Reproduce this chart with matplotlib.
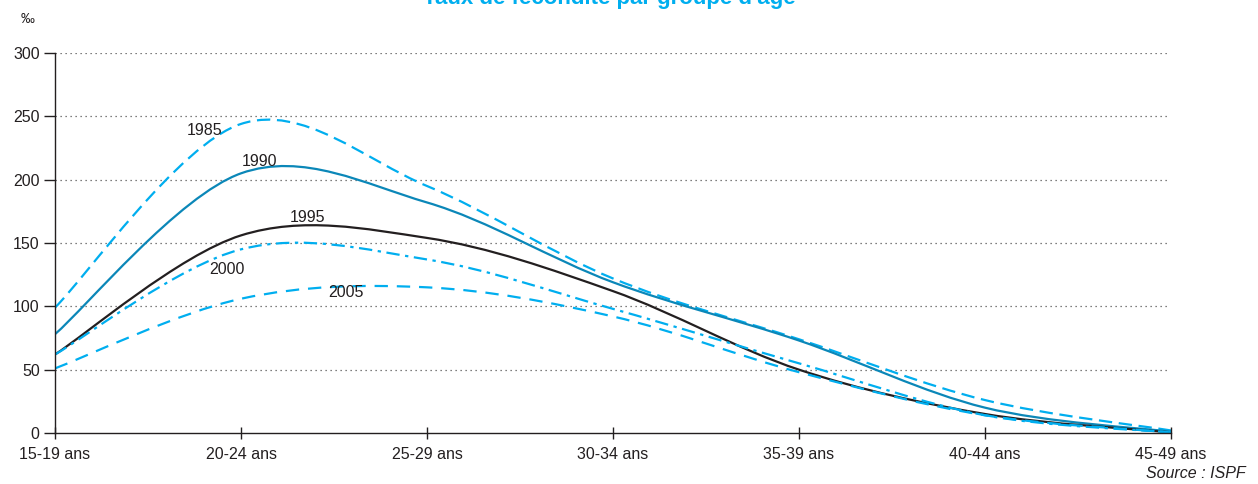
import matplotlib.pyplot as plt
import numpy as np
from matplotlib.path import Path
from matplotlib.patches import PathPatch

plt.rcParams['font.family'] = ['Liberation Sans', 'DejaVu Sans']

ages = ["15-19 ans", "20-24 ans", "25-29 ans", "30-34 ans", "35-39 ans", "40-44 ans", "45-49 ans"]
t1985 = [99, 244, 195, 122, 74, 26, 2]
t1990 = [78, 205, 182, 119, 73, 20, 1]
t1995 = [62, 156, 154, 112, 50, 15, 0.5]
t2000 = [62, 145, 137, 98, 55, 14, 0.5]
t2005 = [51, 106, 115, 92, 48, 14, 0.5]

lightblue = "#00AEEF"
series = [
    ("1985", t1985, lightblue, (0, (6, 3))),
    ("1990", t1990, "#0B87B8", "-"),
    ("1995", t1995, "#231F20", "-"),
    ("2000", t2000, lightblue, (0, (6, 2.5, 1.5, 2.5))),
    ("2005", t2005, lightblue, (0, (6, 4))),
]
labels = {"1985": (0.806, 239), "1990": (1.102, 214), "1995": (1.36, 170), "2000": (0.925, 129), "2005": (1.565, 111)}


def smooth_path(y):
    # Excel-like smoothed line: bezier segments through the points
    x = np.arange(len(y), dtype=float)
    pts = np.column_stack([x, y])
    verts = [pts[0]]
    codes = [Path.MOVETO]
    n = len(pts)
    for i in range(n - 1):
        p_prev = pts[max(i - 1, 0)]
        p_next2 = pts[min(i + 2, n - 1)]
        c1 = pts[i] + (pts[i + 1] - p_prev) / 6
        c2 = pts[i + 1] - (p_next2 - pts[i]) / 6
        verts += [c1, c2, pts[i + 1]]
        codes += [Path.CURVE4] * 3
    return Path(verts, codes)


fig = plt.figure(figsize=(12.58, 4.84), dpi=100)
ax = fig.add_axes([55 / 1258, 1 - 433 / 484, 1116 / 1258, 380 / 484])

for name, vals, col, ls in series:
    patch = PathPatch(smooth_path(vals), fill=False, edgecolor=col, lw=1.6, linestyle=ls, capstyle="butt")
    ax.add_patch(patch)
    lx, ly = labels[name]
    ax.text(lx, ly, name, fontsize=11.5, color="#231F20", ha="center", va="center")

ax.set_xlim(0, 6)
ax.set_ylim(0, 300)
ax.set_xticks(range(len(ages)))
ax.set_xticklabels(ages, fontsize=11.5, color="#231F20")
ax.set_yticks(range(0, 301, 50))
ax.tick_params(axis="y", labelsize=11.5, labelcolor="#231F20", length=8, width=1, color="#231F20", pad=3)
ax.tick_params(axis="x", direction="inout", length=8, width=1, color="#231F20", pad=6)
for v in range(50, 301, 50):
    ax.plot([0, 5.98], [v, v], color="#555555", lw=0.9, linestyle=(0, (1, 3)), zorder=0)
for s in ["top", "right"]:
    ax.spines[s].set_visible(False)
for s in ["left", "bottom"]:
    ax.spines[s].set_color("#231F20")
    ax.spines[s].set_linewidth(1)

fig.text(28 / 1258, 1 - 19 / 484, "‰", fontsize=10, color="#231F20", ha="center", va="center")
fig.text(609 / 1258, 1 - 4 / 484, "Taux de fécondité par groupe d'âge", fontsize=16, fontweight="bold",
         color=lightblue, ha="center", va="baseline")
fig.text(1246 / 1258, 1 - 478 / 484, "Source : ISPF", fontsize=11.5, style="italic", color="#231F20",
         ha="right", va="baseline")

fig.savefig("out.png", dpi=100)
